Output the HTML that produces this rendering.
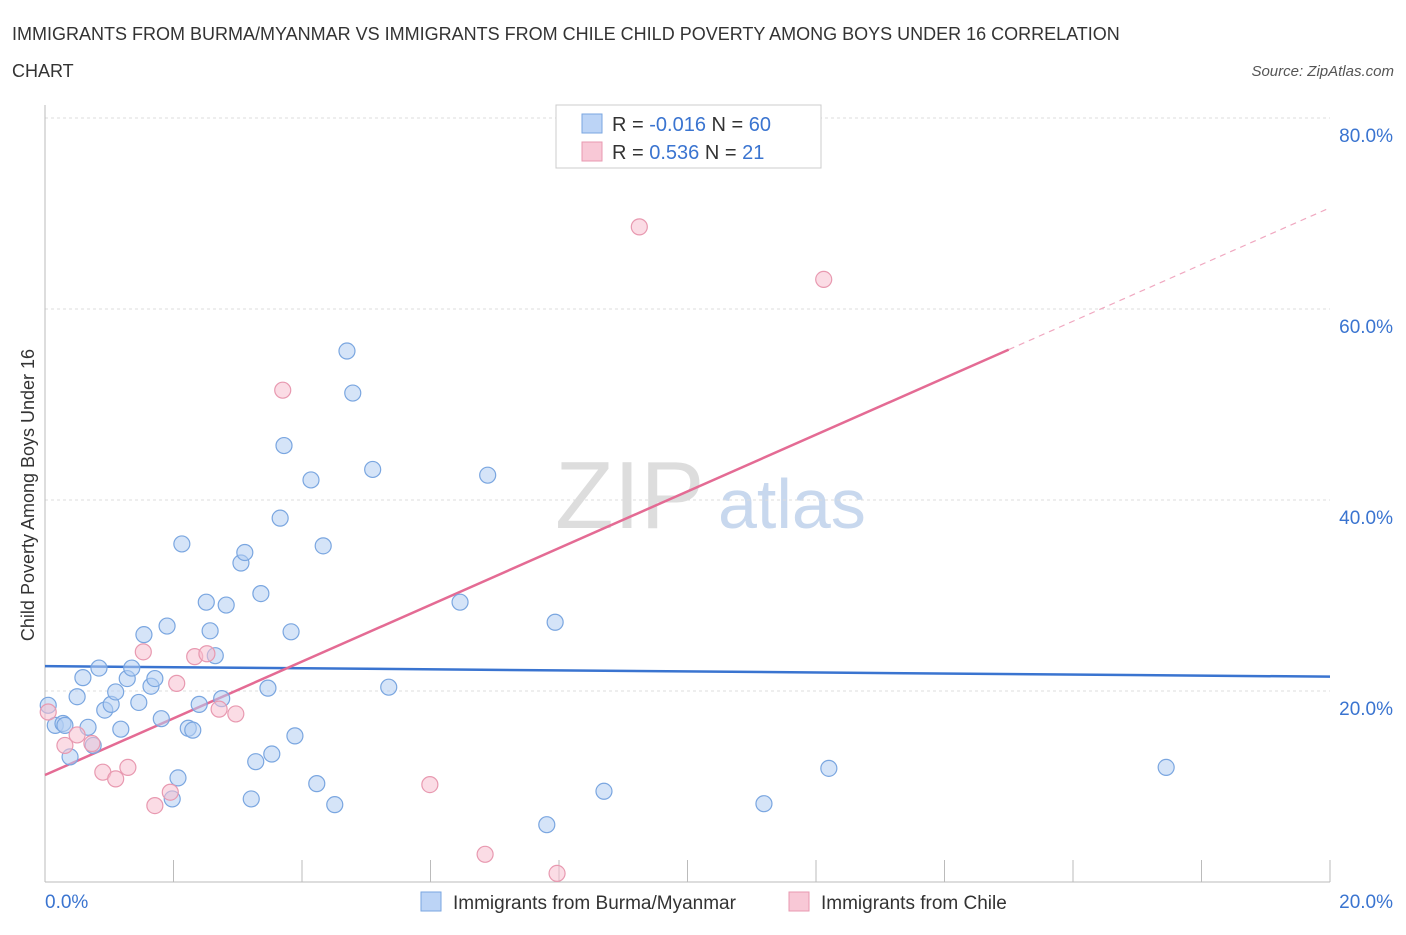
<!DOCTYPE html>
<html><head><meta charset="utf-8"><style>
body{margin:0;background:#fff;font-family:"Liberation Sans",sans-serif;}
svg text{font-family:"Liberation Sans",sans-serif;}
</style></head><body>
<svg id="chart" width="1406" height="930">
<text x="12" y="40" font-size="18" fill="#333">IMMIGRANTS FROM BURMA/MYANMAR VS IMMIGRANTS FROM CHILE CHILD POVERTY AMONG BOYS UNDER 16 CORRELATION</text>
<text x="12" y="77" font-size="18" fill="#333">CHART</text>
<text x="1394" y="76" font-size="15" fill="#555" font-style="italic" text-anchor="end">Source: ZipAtlas.com</text>
<text x="34" y="495" font-size="18" fill="#333" text-anchor="middle" transform="rotate(-90 34 495)">Child Poverty Among Boys Under 16</text>
<text x="555" y="528" font-size="96" fill="#ddd" font-family="Liberation Serif">ZIP</text>
<text x="718" y="528" font-size="70" fill="#c8d8ee">atlas</text>
<g id="grid"></g><g id="lines"></g><g id="points"></g>
<g>
<rect x="556" y="105" width="265" height="63" fill="#fff" stroke="#ccc"/>
<rect x="582" y="114" width="20" height="19" fill="#bcd4f6" stroke="#7aa6e0"/>
<text x="612" y="131" font-size="20" fill="#333">R = <tspan fill="#3a74d0">-0.016</tspan>   N = <tspan fill="#3a74d0">60</tspan></text>
<rect x="582" y="142" width="20" height="19" fill="#f8c8d6" stroke="#e899b0"/>
<text x="612" y="159" font-size="20" fill="#333">R =  <tspan fill="#3a74d0">0.536</tspan>   N =  <tspan fill="#3a74d0">21</tspan></text>
</g>
<g>
<rect x="421" y="892" width="20" height="19" fill="#bcd4f6" stroke="#7aa6e0"/>
<text x="453" y="909" font-size="19" fill="#333">Immigrants from Burma/Myanmar</text>
<rect x="789" y="892" width="20" height="19" fill="#f8c8d6" stroke="#e899b0"/>
<text x="821" y="909" font-size="19" fill="#333">Immigrants from Chile</text>
</g>
</svg>
<script>
const yTicks=[20,40,60,80];
const yTickLabels=["20.0%","40.0%","60.0%","80.0%"];
const xTickCount=10;
const blueX=[0.05,0.16,0.28,0.39,0.50,0.59,0.67,0.75,0.84,0.93,1.03,1.10,1.18,1.28,1.35,1.46,1.54,1.65,1.71,1.81,1.90,1.98,2.07,2.13,2.23,2.30,2.40,2.51,2.57,2.65,2.75,2.82,3.05,3.11,3.21,3.28,3.36,3.47,3.53,3.66,3.72,3.83,3.89,4.14,4.23,4.33,4.51,4.70,4.79,5.10,5.35,6.46,6.89,7.81,7.94,8.70,11.19,12.20,17.45,0.31];
const blueY=[18.5,16.4,16.6,13.1,19.4,21.4,16.2,14.3,22.4,18.0,18.6,19.9,16.0,21.3,22.4,18.8,25.9,20.5,21.3,17.1,26.8,8.7,10.9,35.4,16.1,15.9,18.6,29.3,26.3,23.7,19.2,29.0,33.4,34.5,8.7,12.6,30.2,20.3,13.4,38.1,45.7,26.2,15.3,42.1,10.3,35.2,8.1,55.6,51.2,43.2,20.4,29.3,42.6,6.0,27.2,9.5,8.2,11.9,12.0,16.4];
const pinkX=[0.05,0.31,0.50,0.73,0.90,1.10,1.29,1.53,1.71,1.95,2.05,2.33,2.52,2.71,2.97,3.70,5.99,6.85,7.97,9.25,12.12];
const pinkY=[17.8,14.3,15.4,14.5,11.5,10.8,12.0,24.1,8.0,9.4,20.8,23.6,23.9,18.1,17.6,51.5,10.2,2.9,0.9,68.6,63.1];
const blueTrend=[22.6,21.5];
const pinkTrend=[11.2,70.6];
const pinkSolidEnd=15.0;
const X0=45,X1=1330,Y0=882,YS=9.55;
const sx=v=>X0+(X1-X0)*v/20, sy=v=>Y0-v*YS;
const NS="http://www.w3.org/2000/svg";
function mk(p,t,a){const e=document.createElementNS(NS,t);for(const k in a)e.setAttribute(k,a[k]);p.appendChild(e);return e;}
const grid=document.getElementById('grid');
yTicks.forEach((t,i)=>{
 const l=mk(grid,'line',{x1:X0,x2:X1,y1:sy(t),y2:sy(t),stroke:'#ddd','stroke-dasharray':'3,3'});
 
 
 const tx=mk(grid,'text',{x:1393,y:sy(t)+24,'font-size':19,fill:'#3a74d0','text-anchor':'end'});
 tx.textContent=yTickLabels[i];
 
 
});
const ax=mk(grid,'line',{x1:X0,x2:X1,y1:Y0,y2:Y0,stroke:'#bbb'});


const ay=mk(grid,'line',{x1:X0,x2:X0,y1:105,y2:Y0,stroke:'#bbb'});


for(let i=1;i<=xTickCount;i++){const x=sx(i*20/xTickCount);
 const t=mk(grid,'line',{x1:x,x2:x,y1:Y0-22,y2:Y0,stroke:'#bbb'});
 
 }
const xl=mk(grid,'text',{x:45,y:908,'font-size':19,fill:'#3a74d0'});xl.textContent='0.0%';


const xr=mk(grid,'text',{x:1393,y:908,'font-size':19,fill:'#3a74d0','text-anchor':'end'});xr.textContent='20.0%';


const pts=document.getElementById('points');
function dots(xs,ys,fill,stroke,name){xs.forEach((x,i)=>{
 const c=mk(pts,'circle',{cx:sx(x),cy:sy(ys[i]),r:8,fill:fill,'fill-opacity':0.55,stroke:stroke,'stroke-width':1.2});
 
 });}
dots(blueX,blueY,'#b3cef3','#7aa6e0','point-burma');
dots(pinkX,pinkY,'#f7bfd0','#e899b0','point-chile');
const ln=document.getElementById('lines');
const py=x=>pinkTrend[0]+(pinkTrend[1]-pinkTrend[0])*x/20;
const b=mk(ln,'line',{x1:sx(0),y1:sy(blueTrend[0]),x2:sx(20),y2:sy(blueTrend[1]),stroke:'#3a74d0','stroke-width':2.5});


const p=mk(ln,'line',{x1:sx(0),y1:sy(py(0)),x2:sx(pinkSolidEnd),y2:sy(py(pinkSolidEnd)),stroke:'#e46b94','stroke-width':2.5});


const pd=mk(ln,'line',{x1:sx(pinkSolidEnd),y1:sy(py(pinkSolidEnd)),x2:sx(20),y2:sy(py(20)),stroke:'#f0a8c0','stroke-width':1.2,'stroke-dasharray':'6,5'});


</script>
</body></html>
